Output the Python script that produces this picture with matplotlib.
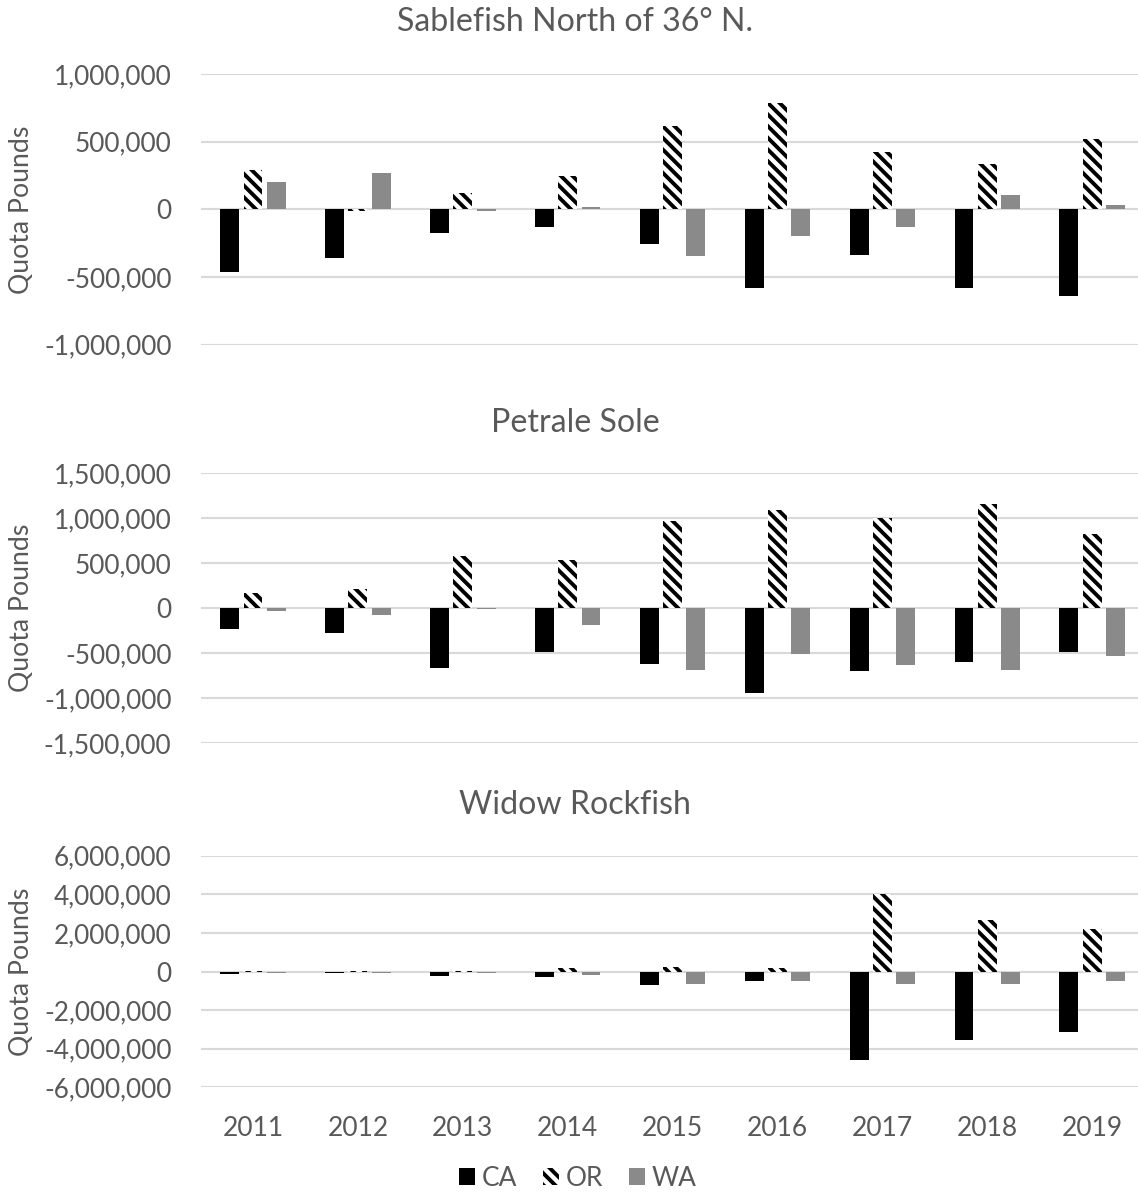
import matplotlib.pyplot as plt
import numpy as np
from matplotlib.ticker import FuncFormatter

YEARS = ["2011", "2012", "2013", "2014", "2015", "2016", "2017", "2018", "2019"]

SABLE_CA = [-461000, -360000, -175000, -130000, -254000, -580000, -336000, -580000, -637000]
SABLE_OR = [294000, -15000, 121000, 244000, 615000, 788000, 422000, 338000, 521000]
SABLE_WA = [200000, 270000, -10000, 15000, -348000, -197000, -128000, 109000, 30000]

PETRALE_CA = [-237000, -274000, -670000, -485000, -619000, -948000, -704000, -604000, -485000]
PETRALE_OR = [170000, 208000, 581000, 541000, 967000, 1089000, 1000000, 1159000, 830000]
PETRALE_WA = [-33000, -81000, -15000, -185000, -689000, -515000, -637000, -689000, -533000]

WIDOW_CA = [-110000, -100000, -220000, -290000, -685000, -515000, -4600000, -3550000, -3160000]
WIDOW_OR = [30000, 40000, 50000, 200000, 257000, 200000, 4040000, 2660000, 2200000]
WIDOW_WA = [-100000, -80000, -100000, -180000, -670000, -515000, -670000, -670000, -515000]

PANELS = [
    ("Sablefish North of 36° N.", SABLE_CA, SABLE_OR, SABLE_WA, 1000000, 500000),
    ("Petrale Sole", PETRALE_CA, PETRALE_OR, PETRALE_WA, 1500000, 500000),
    ("Widow Rockfish", WIDOW_CA, WIDOW_OR, WIDOW_WA, 6000000, 2000000),
]

TEXT = "#595959"
GRID = "#d9d9d9"
W, H, DPI = 1138, 1194, 140

plt.rcParams["font.family"] = ["Lato", "DejaVu Sans"]
plt.rcParams["hatch.linewidth"] = 2.0

fig = plt.figure(figsize=(W / DPI, H / DPI), dpi=DPI, facecolor="white")

# axes boxes in pixels: (top, bottom)
boxes = [(74, 344.7), (473.3, 743), (855.7, 1087.3)]
title_y = [22, 423, 805]
left_px, width_px = 200.6, 944

x = np.arange(len(YEARS))
off, bw = 0.222, 0.18

for i, (title, ca, orr, wa, lim, step) in enumerate(PANELS):
    top, bot = boxes[i]
    ax = fig.add_axes([left_px / W, 1 - bot / H, width_px / W, (bot - top) / H])
    ax.bar(x - off, ca, bw, color="black", zorder=3, label="CA")
    ax.bar(x, orr, bw, facecolor="white", hatch="\\\\\\\\", edgecolor="black", linewidth=0, zorder=3, label="OR")
    ax.bar(x + off, wa, bw, color="#8a8a8a", zorder=3, label="WA")
    ax.set_xlim(-0.5, len(YEARS) - 0.5)
    ax.set_ylim(-lim, lim)
    ax.set_yticks(np.arange(-lim, lim + 1, step))
    ax.yaxis.set_major_formatter(FuncFormatter(lambda v, p: f"{int(v):,}"))
    ax.grid(axis="y", color=GRID, linewidth=1.1, zorder=0)
    for s in ax.spines.values():
        s.set_visible(False)
    ax.tick_params(axis="y", length=0, pad=15, labelsize=13.5, labelcolor=TEXT)
    ax.set_ylabel("Quota Pounds", fontsize=13.7, color=TEXT)
    ax.yaxis.set_label_coords(-(left_px - 34) / width_px, 0.5)
    if i == 2:
        ax.set_xticks(x)
        ax.set_xticklabels(YEARS)
        ax.tick_params(axis="x", length=0, pad=15, labelsize=13.6, labelcolor=TEXT)
    else:
        ax.set_xticks([])
    fig.text(575 / W, 1 - title_y[i] / H, title, ha="center", va="center", fontsize=16.5, color=TEXT)

handles, labels = ax.get_legend_handles_labels()
leg = fig.legend(handles, labels, loc="center", bbox_to_anchor=(578 / W, 1 - 1178 / H), ncol=3,
                 frameon=False, fontsize=13.5, handlelength=0.6, handleheight=0.6,
                 handletextpad=0.25, columnspacing=1.0)
for t in leg.get_texts():
    t.set_color(TEXT)

fig.savefig("out.png", dpi=DPI, facecolor="white")
